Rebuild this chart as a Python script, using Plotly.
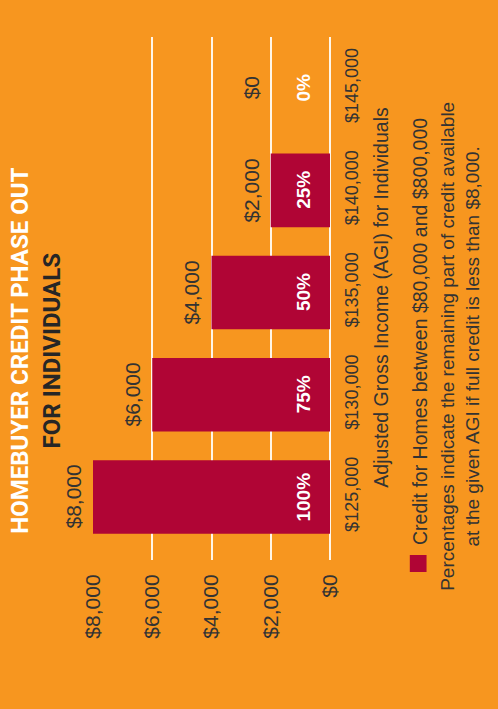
import plotly.graph_objects as go

# ---- data ----
categories = ["$125,000", "$130,000", "$135,000", "$140,000", "$145,000"]
credit = [8000, 6000, 4000, 2000, 0]
percent_labels = ["100%", "75%", "50%", "25%", "0%"]
value_ticks = [0, 2000, 4000, 6000, 8000]
value_tick_text = ["$0", "$2,000", "$4,000", "$6,000", "$8,000"]

title_line1 = "HOMEBUYER CREDIT PHASE OUT"
title_line2 = "FOR INDIVIDUALS"
axis_title = "Adjusted Gross Income (AGI) for Individuals"
legend_label = "Credit for Homes between $80,000 and $800,000"
note_lines = ["Percentages indicate the remaining part of credit available",
              "at the given AGI if full credit is less than $8,000."]

# ---- style ----
ORANGE = "#F7961F"
RED = "#B00535"
DARK = "#333333"
FONT = "Liberation Sans, Arial, sans-serif"
TITLE_FONT = "Roboto, Liberation Sans, sans-serif"

W, H = 498, 709
L, R, T, B = 93.3, 168.3, 36.5, 149
PW, PH = W - L - R, H - T - B


def px_x(px):
    return (px - L) / PW


def px_y(py):
    return (H - B - py) / PH


fig = go.Figure()
fig.add_trace(go.Bar(
    x=credit, y=categories, orientation="h",
    marker=dict(color=RED, line=dict(width=0)),
    width=0.72, showlegend=False, hoverinfo="skip",
))

annotations = []
for i, (cat, v, pct) in enumerate(zip(categories, credit, percent_labels)):
    lx = v if v > 0 else credit[i - 1]
    annotations.append(dict(
        x=lx, y=cat, xref="x", yref="y", text=f"${v:,}", textangle=-90,
        xanchor="right", yanchor="middle", xshift=-6, showarrow=False,
        font=dict(family=FONT, size=21, color=DARK),
    ))
    annotations.append(dict(
        x=0, y=cat, xref="x", yref="y", text=f"<b>{pct}</b>", textangle=-90,
        xanchor="right", yanchor="middle", xshift=-14, showarrow=False,
        font=dict(family=FONT, size=19, color="white"),
    ))

# title
annotations.append(dict(
    x=px_x(36), y=px_y(351), xref="paper", yref="paper",
    text=f"<span style='color:white'>{title_line1}</span><br>{title_line2}",
    textangle=-90, xanchor="center", yanchor="middle", showarrow=False,
    font=dict(family=TITLE_FONT, size=24, color="#262626", weight="bold"),
))
# axis title
annotations.append(dict(
    x=px_x(381), y=px_y(297), xref="paper", yref="paper", text=axis_title,
    textangle=-90, xanchor="center", yanchor="middle", showarrow=False,
    font=dict(family=FONT, size=19.5, color=DARK),
))
# legend text
annotations.append(dict(
    x=px_x(419), y=px_y(547), xref="paper", yref="paper", text=legend_label,
    textangle=-90, xanchor="center", yanchor="bottom", showarrow=False,
    font=dict(family=FONT, size=19.5, color=DARK),
))
# notes
annotations.append(dict(
    x=px_x(460), y=px_y(346), xref="paper", yref="paper",
    text="<br>".join(note_lines), align="center",
    textangle=-90, xanchor="center", yanchor="middle", showarrow=False,
    font=dict(family=FONT, size=19, color=DARK),
))

fig.update_layout(
    width=W, height=H,
    margin=dict(l=L, r=R, t=T, b=B, autoexpand=False),
    paper_bgcolor=ORANGE, plot_bgcolor=ORANGE,
    font=dict(family=FONT, color=DARK),
    showlegend=False,
    annotations=annotations,
    shapes=[dict(type="rect", xref="paper", yref="paper",
                 x0=px_x(409.3), x1=px_x(426), y0=px_y(572), y1=px_y(555),
                 fillcolor=RED, line=dict(width=0))],
    xaxis=dict(
        range=[8000, 0], tickvals=value_ticks, ticktext=value_tick_text,
        tickangle=-90, tickfont=dict(size=21, color=DARK),
        showgrid=True, gridcolor="#FFF6E8", gridwidth=2,
        zeroline=True, zerolinecolor="#FFF6E8", zerolinewidth=2,
        showline=False, ticks="outside", ticklen=5, tickcolor="rgba(0,0,0,0)",
        fixedrange=True,
    ),
    yaxis=dict(
        type="category", range=[-0.616, 4.5], side="right",
        tickangle=-90, tickfont=dict(size=18, color=DARK),
        showgrid=False, zeroline=False, showline=False,
        ticks="outside", ticklen=5, tickcolor="rgba(0,0,0,0)",
        fixedrange=True,
    ),
)

fig.write_html("out.html", config={"displayModeBar": False},
               post_script="document.body.style.margin='0';")
